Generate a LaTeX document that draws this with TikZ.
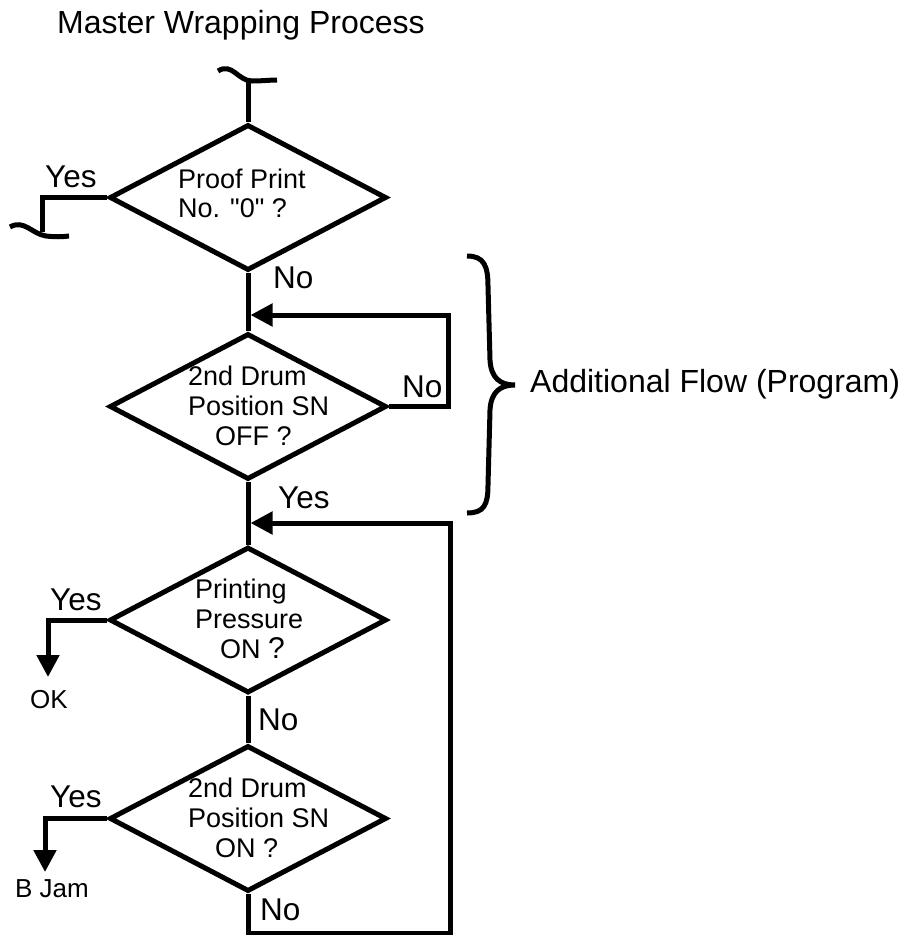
\documentclass[tikz,border=0pt]{standalone}
\usepackage{fontspec}
\setmainfont{Liberation Sans}[Ligatures=TeXOff]
\usetikzlibrary{shapes.geometric,arrows.meta}
\begin{document}
\begin{tikzpicture}[x=1pt,y=-1pt,
 dia/.style={draw,shape=diamond,minimum width=277pt,minimum height=146pt,inner sep=0pt,line width=5pt},
 ln/.style={line width=5pt},
 arr/.style={line width=5pt,-{Triangle[length=22pt,width=22pt]}},
 lbl/.style={font=\fontsize{31.5}{31.5}\selectfont,inner sep=0pt,anchor=base west},
 big/.style={font=\fontsize{32}{32}\selectfont,inner sep=0pt,anchor=base west},
 dtx/.style={font=\fontsize{27}{30}\selectfont,inner sep=0pt,anchor=base west},
 stx/.style={font=\fontsize{26}{30}\selectfont,inner sep=0pt,anchor=base west}]
\useasboundingbox (0,0) rectangle (906,935);

% title
\node[big] (title) at (57,33) {Master Wrapping Process};

% diamonds
\node[dia] (d1) at (248,197.5) {};
\node[dia] (d2) at (248,406.5) {};
\node[dia] (d3) at (248,620) {};
\node[dia] (d4) at (248,818.5) {};

% diamond texts
\node[dtx] (t1a) at (178,188) {Proof Print};
\node[dtx] (t1b) at (178,217) {No. "0" ?};
\node[dtx] (t2a) at (188,385) {2nd Drum};
\node[dtx] (t2b) at (188,415) {Position SN};
\node[dtx] (t2c) at (215,445) {OFF ?};
\node[dtx] (t3a) at (195,598) {Printing};
\node[dtx] (t3b) at (195,628) {Pressure};
\node[dtx] (t3c) at (220,658) {ON \fontsize{30}{30}\selectfont ?};
\node[dtx] (t4a) at (188,797) {2nd Drum};
\node[dtx] (t4b) at (188,827) {Position SN};
\node[dtx] (t4c) at (215,857) {ON ?};

% labels
\node[lbl] (y1) at (45,187) {Yes};
\node[lbl] (n1) at (273,288) {No};
\node[lbl] (n2) at (402,397) {No};
\node[lbl] (y2) at (278,508) {Yes};
\node[lbl] (y3) at (50,610) {Yes};
\node[stx] (ok) at (30,708) {OK};
\node[lbl] (n3) at (258,730) {No};
\node[lbl] (y4) at (50,807) {Yes};
\node[stx] (bj) at (15,897) {B Jam};
\node[lbl] (n4) at (260,920) {No};
\node[big] (add) at (530,392) {Additional Flow (Program)};

% top entry with break mark
\coordinate (top) at (248,80);
\draw[ln] (top) -- (d1.north);
\draw[ln] (218,71) .. controls (232,62) and (238,81) .. (252,81) .. controls (262,81) and (270,80) .. (277,80);

% yes branch of d1 with break mark
\coordinate (yb) at (42,232);
\draw[ln] (d1.west) -| (yb);
\draw[ln] (10,227) .. controls (24,219) and (32,234) .. (46,236) .. controls (55,237) and (62,237) .. (69,236);

% main flow
\draw[ln] (d1.south) -- (d2.north);
\draw[ln] (d2.south) -- (d3.north);
\draw[ln] (d3.south) -- (d4.north);

% loop of d2
\coordinate (j1) at (248,315);
\coordinate (r1) at (448,315);
\draw[arr] (d2.east) -| (r1) -- ([xshift=2.5pt]j1);

% big loop
\coordinate (b1) at (248,933);
\coordinate (r2) at (450,523);
\coordinate (j2) at (248,523);
\draw[arr] (d4.south) -- (b1) -| (r2) -- ([xshift=2.5pt]j2);

% exits
\coordinate (okt) at (48,677);
\draw[arr] (d3.west) -| (okt);
\coordinate (bjt) at (45,872);
\draw[arr] (d4.west) -| (bjt);

% brace
\draw[ln] (467,256) .. controls (484,256) and (488,266) .. (488,286) -- (490,360) .. controls (491,378) and (500,385) .. (515,385) .. controls (500,385) and (491,392) .. (490,410) -- (488,485) .. controls (488,505) and (484,513) .. (467,513);
\end{tikzpicture}
\end{document}
